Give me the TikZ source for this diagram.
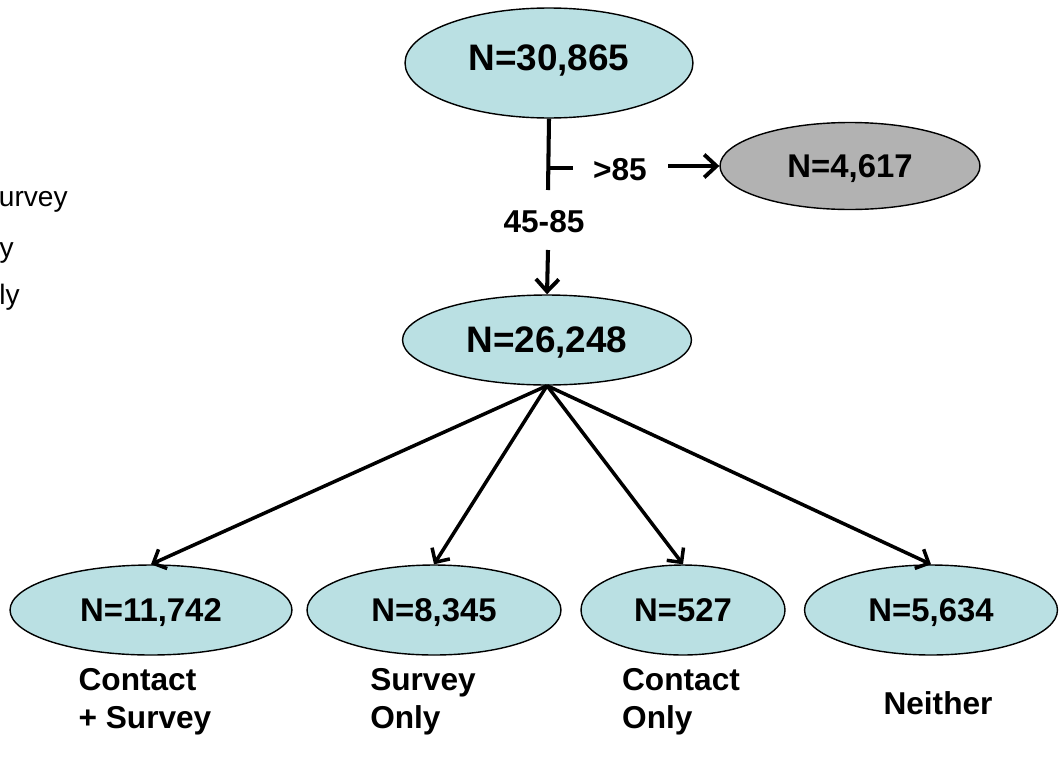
\documentclass[tikz,border=0pt]{standalone}
\usepackage{fontspec}
\setmainfont{Liberation Sans}
\usetikzlibrary{shapes.geometric,arrows.meta}
\definecolor{popBlue}{RGB}{186,224,227}
\definecolor{popGrey}{RGB}{178,178,178}
\begin{document}
\begin{tikzpicture}[x=0.02cm,y=-0.02cm]
%styles
\tikzstyle{popEllipse}=[ellipse, draw, line width=0.8pt, fill=popBlue, inner sep=0pt, text depth=0pt, font=\bfseries\fontsize{21}{24}\selectfont]
\tikzstyle{groupEllipse}=[popEllipse, font=\bfseries\fontsize{18.7}{22}\selectfont, minimum height=1.8cm]
\tikzstyle{textLine}=[inner sep=0pt, text=black, font=\bfseries\fontsize{18}{21.5}\selectfont, align=left]
\tikzstyle{textLeg}=[inner sep=0pt, text=black, font=\fontsize{16}{19}\selectfont, anchor=base east]
\useasboundingbox (0,0) rectangle (1060,764);
%legende (coupee)
\node[textLeg] (leg1) at (68,206) {urvey};
\node[textLeg] (leg2) at (14,257) {y};
\node[textLeg] (leg3) at (20,304) {ly};
%nodes
\node[popEllipse, minimum width=5.76cm, minimum height=2.2cm, text depth=6pt] (all) at (549,63) {N=30,865};
\node[popEllipse, fill=popGrey, minimum width=5.2cm, minimum height=1.74cm, font=\bfseries\fontsize{18.7}{22}\selectfont] (old) at (850,166) {N=4,617};
\node[popEllipse, minimum width=5.78cm, minimum height=1.8cm] (mid) at (547,340) {N=26,248};
\node[groupEllipse, minimum width=5.64cm] (g1) at (151,610) {N=11,742};
\node[groupEllipse, minimum width=5.08cm] (g2) at (434,610) {N=8,345};
\node[groupEllipse, minimum width=4.08cm] (g3) at (683,610) {N=527};
\node[groupEllipse, minimum width=5.06cm] (g4) at (931,610) {N=5,634};
%text
\node[textLine] (over) at (620,170) {>85};
\node[textLine] (range) at (544,222) {45-85};
\node[textLine] (t1) at (145,702) {Contact\\+ Survey};
\node[textLine] (t2) at (423,702) {Survey\\Only};
\node[textLine] (t3) at (681,702) {Contact\\Only};
\node[textLine] (t4) at (938,703) {Neither};
%coordonnees
\coordinate (split) at (548,190);
\coordinate (tick) at (548,168);
\coordinate (tickEnd) at (573,168);
\coordinate (goRight) at (668,166);
\coordinate (goDown) at (548,250);
%vecteur
\tikzstyle{bigVector}=[-{Straight Barb[length=7pt,width=13pt,line width=2.2pt]}, line width=2.3pt]
\tikzstyle{vector}=[-{Straight Barb[length=6pt,width=12pt,line width=2pt]}, line width=2pt]
\draw[line width=2.3pt] (all.south) -- (split);
\draw[line width=2.3pt] (tick) -- (tickEnd);
\draw[bigVector] (goRight) -- (old.west);
\draw[bigVector] (goDown) -- (mid.north);
\draw[vector] (mid.south) -- (g1.north);
\draw[vector] (mid.south) -- (g2.north);
\draw[vector] (mid.south) -- (g3.north);
\draw[vector] (mid.south) -- (g4.north);
\end{tikzpicture}
\end{document}
